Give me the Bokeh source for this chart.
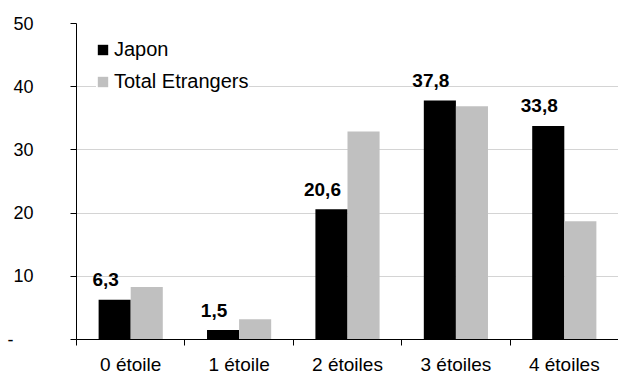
from bokeh.plotting import figure
from bokeh.models import Range1d, FixedTicker, ColumnDataSource, Legend, LegendItem
from bokeh.transform import dodge
from bokeh.core.properties import value
from bokeh.embed import file_html
from bokeh.resources import INLINE

categories = ["0 étoile", "1 étoile", "2 étoiles", "3 étoiles", "4 étoiles"]
japon = [6.3, 1.5, 20.6, 37.8, 33.8]
total_etrangers = [8.3, 3.2, 32.9, 36.9, 18.7]
japon_labels = ["6,3", "1,5", "20,6", "37,8", "33,8"]
y_ticks = [0, 10, 20, 30, 40, 50]
y_tick_labels = ["-\u00a0\u00a0\u00a0\u00a0", "10", "20", "30", "40", "50"]

FONT = "Liberation Sans"

pos = list(range(1, len(categories) + 1))
src = ColumnDataSource(dict(x=pos, cat=categories, japon=japon,
                            total=total_etrangers, lab=japon_labels))

p = figure(width=618, height=377, x_range=Range1d(0.5, len(categories) + 0.5),
           y_range=Range1d(0, 50), output_backend="svg", toolbar_location=None,
           min_border_left=76, min_border_right=0, min_border_top=23,
           min_border_bottom=38)
p.outline_line_color = None
p.background_fill_color = "white"
p.border_fill_color = "white"

r1 = p.vbar(x=dodge('x', -0.148), top='japon', width=0.296, source=src,
            fill_color="#000000", line_color=None)
r2 = p.vbar(x=dodge('x', 0.148), top='total', width=0.296, source=src,
            fill_color="#c0c0c0", line_color=None)

p.text(x=dodge('x', -0.148), y='japon', text='lab', source=src,
       text_font=value(FONT), text_font_style="bold", text_font_size="19px",
       text_align="center", text_baseline="alphabetic", text_color="#000000",
       x_offset=-9, y_offset=-20)

# x axis
p.xaxis.ticker = FixedTicker(ticks=pos, minor_ticks=[x - 0.5 for x in pos])
p.xaxis.major_label_overrides = {x: c for x, c in zip(pos, categories)}
p.xaxis.major_tick_out = 0
p.xaxis.major_tick_in = 0
p.xaxis.minor_tick_out = 6
p.xaxis.minor_tick_in = 0
p.xaxis.major_label_standoff = 8
p.xaxis.major_label_text_font = FONT
p.xaxis.major_label_text_font_size = "19px"
p.xaxis.major_label_text_color = "#000000"
p.xaxis.axis_line_color = "#000000"
p.xaxis.minor_tick_line_color = "#000000"
p.xgrid.visible = False

# y axis
p.yaxis.ticker = FixedTicker(ticks=y_ticks, minor_ticks=[])
p.yaxis.major_label_overrides = {t: l for t, l in zip(y_ticks, y_tick_labels)}
p.yaxis.major_tick_out = 6
p.yaxis.major_tick_in = 0
p.yaxis.minor_tick_out = 0
p.yaxis.minor_tick_in = 0
p.yaxis.major_label_standoff = 37
p.yaxis.major_label_text_font = FONT
p.yaxis.major_label_text_font_size = "18px"
p.yaxis.major_label_text_color = "#000000"
p.yaxis.axis_line_color = "#000000"
p.yaxis.major_tick_line_color = "#000000"
p.ygrid.ticker = FixedTicker(ticks=y_ticks[1:])
p.ygrid.grid_line_color = "#d4d4d4"

legend = Legend(items=[LegendItem(label="Japon", renderers=[r1]),
                       LegendItem(label="Total Etrangers", renderers=[r2])],
                location=(20, 246))
legend.label_text_font = FONT
legend.label_text_font_size = "20px"
legend.label_text_color = "#000000"
legend.glyph_width = 13
legend.glyph_height = 13
legend.label_standoff = 5
legend.label_height = 23
legend.spacing = 9
legend.padding = 0
legend.margin = 0
legend.border_line_color = None
legend.background_fill_color = "white"
legend.background_fill_alpha = 1
p.add_layout(legend, "center")

open("out.html", "w").write(file_html(p, INLINE))
